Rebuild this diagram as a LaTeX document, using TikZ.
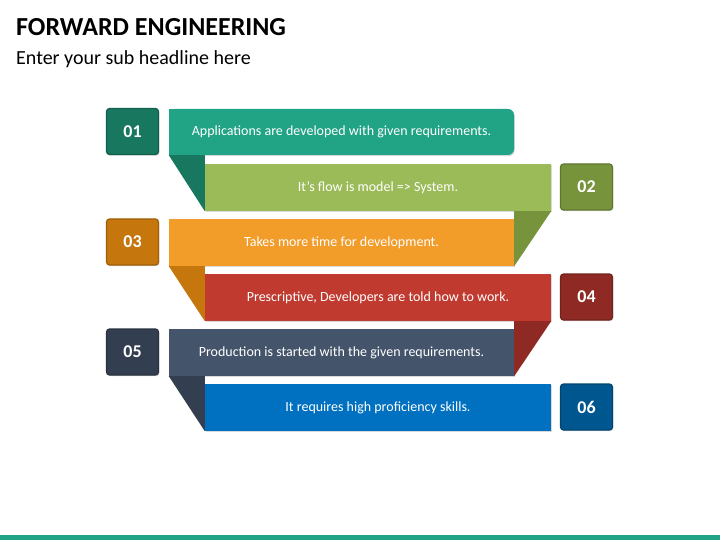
\documentclass[tikz,border=0pt]{standalone}
\usepackage{fontspec}
\setmainfont{Carlito}
\usepackage{xcolor}
\usetikzlibrary{shadows}
\definecolor{tealbar}{HTML}{21A385}
\definecolor{tealdark}{HTML}{17775F}
\definecolor{greenbar}{HTML}{9BBB59}
\definecolor{greendark}{HTML}{77933C}
\definecolor{orangebar}{HTML}{F29C2A}
\definecolor{orangedark}{HTML}{C5760C}
\definecolor{redbar}{HTML}{C03A30}
\definecolor{reddark}{HTML}{8E2A23}
\definecolor{slatebar}{HTML}{44546A}
\definecolor{slatedark}{HTML}{333F50}
\definecolor{bluebar}{HTML}{0070C0}
\definecolor{bluedark}{HTML}{00568F}

\begin{document}
\begin{tikzpicture}[x=1pt, y=-1pt,
            bar/.style={rectangle, inner sep=0pt, minimum height=47pt, text=white,
                font=\fontsize{14}{16}\selectfont,
                drop shadow={opacity=0.3, shadow xshift=0.8pt, shadow yshift=-1.2pt}},
            shortbar/.style={bar, minimum width=345pt},
            longbar/.style={bar, minimum width=346pt},
            numbox/.style={rectangle, rounded corners=3pt, line width=1.2pt, inner sep=0pt,
                minimum width=52pt, minimum height=46pt, text=white,
                font=\fontsize{18}{20}\selectfont\bfseries,
                drop shadow={opacity=0.3, shadow xshift=0.8pt, shadow yshift=-1.2pt}}]
            \useasboundingbox (0,0) rectangle (720,540);

            \node[anchor=base west, inner sep=0pt, font=\fontsize{26}{30}\selectfont\bfseries] (title) at (16,36) {FORWARD ENGINEERING};
            \node[anchor=base west, inner sep=0pt, font=\fontsize{20}{24}\selectfont] (subtitle) at (16,65) {Enter your sub headline here};

            \node[shortbar, minimum height=46pt, fill=tealbar, rounded corners=6pt] (bar1) at (341.5,132) {Applications are developed with given requirements.};
            \fill[tealbar] (bar1.north west) rectangle ([xshift=12pt]bar1.south west);
            \node[longbar, fill=greenbar] (bar2) at (378,187.5) {It’s flow is model => System.};
            \node[shortbar, fill=orangebar] (bar3) at (341.5,242.5) {Takes more time for development.};
            \node[longbar, fill=redbar] (bar4) at (378,297.5) {Prescriptive, Developers are told how to work.};
            \node[shortbar, fill=slatebar] (bar5) at (341.5,352.5) {Production is started with the given requirements.};
            \node[longbar, fill=bluebar] (bar6) at (378,407.5) {It requires high proficiency skills.};

            \fill[tealdark] (bar1.south west) -- (bar1.south west -| bar2.west) -- (bar2.south west) -- cycle;
            \fill[greendark] (bar2.south east) -- (bar2.south east -| bar3.east) -- (bar3.south east) -- cycle;
            \fill[orangedark] (bar3.south west) -- (bar3.south west -| bar4.west) -- (bar4.south west) -- cycle;
            \fill[reddark] (bar4.south east) -- (bar4.south east -| bar5.east) -- (bar5.south east) -- cycle;
            \fill[slatedark] (bar5.south west) -- (bar5.south west -| bar6.west) -- (bar6.south west) -- cycle;

            \node[numbox, fill=tealdark, draw=tealdark!80!black] (num1) at (132.5,131.5) {01};
            \node[numbox, fill=greendark, draw=greendark!80!black] (num2) at (586.5,187) {02};
            \node[numbox, fill=orangedark, draw=orangedark!80!black] (num3) at (132.5,242) {03};
            \node[numbox, fill=reddark, draw=reddark!80!black] (num4) at (586.5,297) {04};
            \node[numbox, fill=slatedark, draw=slatedark!80!black] (num5) at (132.5,352) {05};
            \node[numbox, fill=bluedark, draw=bluedark!80!black] (num6) at (586.5,407) {06};

            \fill[tealbar] (0,535) rectangle (720,540);
        \end{tikzpicture}
\end{document}
